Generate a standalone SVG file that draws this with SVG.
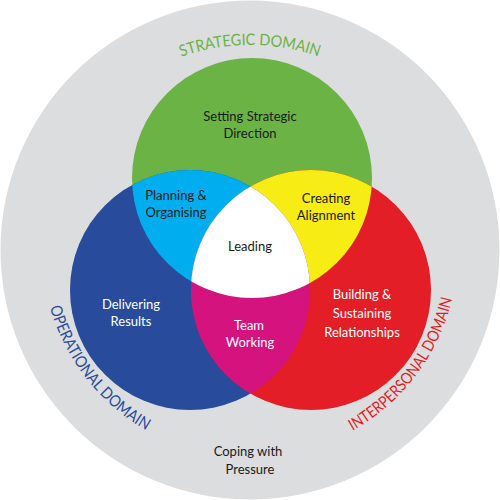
<svg xmlns="http://www.w3.org/2000/svg" width="500" height="500" viewBox="0 0 500 500">
<style>
.lbl{font-family:Lato,"Open Sans","Liberation Sans",sans-serif;font-size:13px;text-anchor:middle}
.dom{font-family:Lato,"Open Sans","Liberation Sans",sans-serif;font-size:16px}
.dark{fill:#1a1a1a}
.light{fill:#ffffff}
</style>
<defs>
<clipPath id="cG"><circle cx="252" cy="178" r="120"/></clipPath>
<clipPath id="cB"><circle cx="190" cy="290" r="120"/></clipPath>
<clipPath id="cR"><circle cx="311" cy="290" r="120"/></clipPath>
<path id="pS" d="M 45,250 A 205 205 0 0 1 455,250"/>
<path id="pO" d="M 54.5,178.9 A 208 208 0 0 0 271.7,456.9"/>
<path id="pI" d="M 231.9,457.2 A 208 208 0 0 0 444.2,175.5"/>
</defs>
<g id="outer">
<circle cx="250" cy="250" r="249.5" fill="#dcdddf"/>
</g>
<g id="strategic">
<circle cx="252" cy="178" r="120" fill="#6ab344"/>
</g>
<g id="operational">
<circle cx="190" cy="290" r="120" fill="#284b9b"/>
</g>
<g id="interpersonal">
<circle cx="311" cy="290" r="120" fill="#e31e27"/>
</g>
<g id="planning">
<g clip-path="url(#cB)"><circle cx="252" cy="178" r="120" fill="#00aeef"/></g>
</g>
<g id="alignment">
<g clip-path="url(#cR)"><circle cx="252" cy="178" r="120" fill="#f7ec13"/></g>
</g>
<g id="team">
<g clip-path="url(#cR)"><circle cx="190" cy="290" r="120" fill="#d4137f"/></g>
</g>
<g id="leading">
<g clip-path="url(#cR)"><g clip-path="url(#cB)"><circle cx="252" cy="178" r="120" fill="#ffffff"/></g></g>
</g>
<g id="labels">
<text class="lbl dark" x="250" y="121">Setting Strategic</text>
<text class="lbl dark" x="250" y="138">Direction</text>
<text class="lbl dark" x="176" y="200">Planning &amp;</text>
<text class="lbl dark" x="176" y="217">Organising</text>
<text class="lbl dark" x="326" y="203">Creating</text>
<text class="lbl dark" x="326" y="220">Alignment</text>
<text class="lbl dark" x="250" y="251">Leading</text>
<text class="lbl light" x="131" y="309">Delivering</text>
<text class="lbl light" x="131" y="326">Results</text>
<text class="lbl light" x="249" y="330">Team</text>
<text class="lbl light" x="250" y="347">Working</text>
<text class="lbl light" x="362" y="299">Building &amp;</text>
<text class="lbl light" x="362" y="318">Sustaining</text>
<text class="lbl light" x="362" y="337">Relationships</text>
<text class="lbl dark" x="248" y="456">Coping with</text>
<text class="lbl dark" x="250" y="474">Pressure</text>
</g>
<g id="domains">
<text class="dom" fill="#6ab344" text-anchor="middle"><textPath href="#pS" startOffset="50%" textLength="140" lengthAdjust="spacingAndGlyphs">STRATEGIC DOMAIN</textPath></text>
<text class="dom" fill="#284b9b" text-anchor="middle"><textPath href="#pO" startOffset="50%" textLength="160" lengthAdjust="spacingAndGlyphs">OPERATIONAL DOMAIN</textPath></text>
<text class="dom" fill="#e31e27" text-anchor="middle"><textPath href="#pI" startOffset="50%" textLength="170" lengthAdjust="spacingAndGlyphs">INTERPERSONAL DOMAIN</textPath></text>
</g>
</svg>
